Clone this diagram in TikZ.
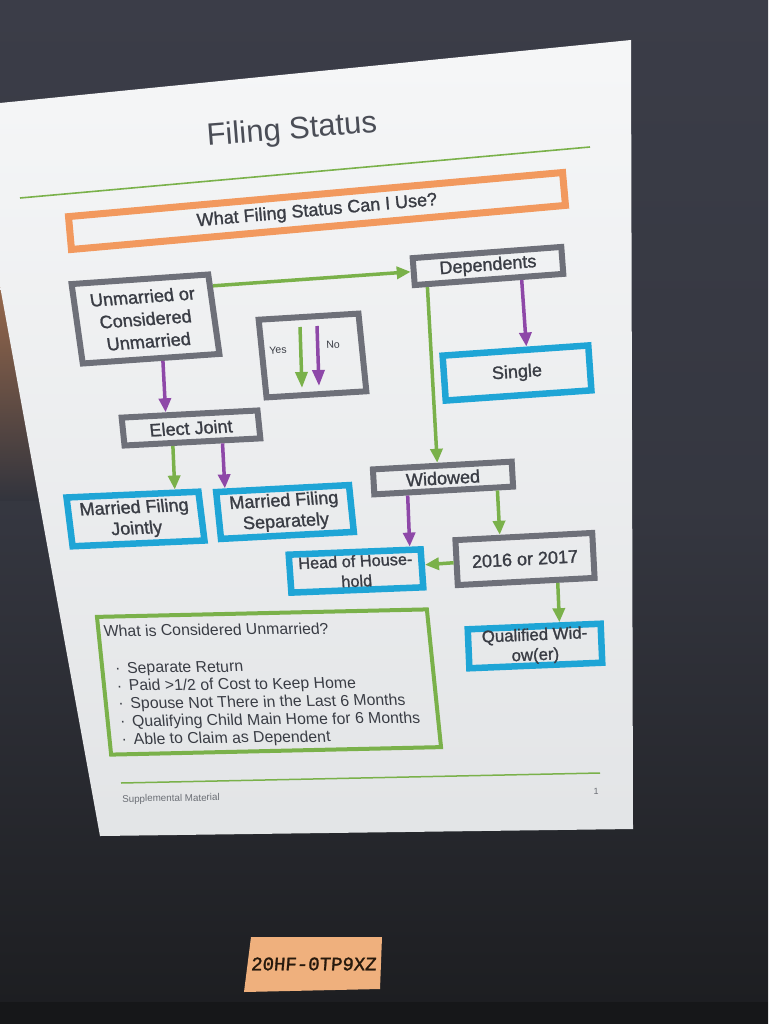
\documentclass[tikz,border=0pt]{standalone}
\usepackage{fontspec}
\setmainfont{Liberation Sans}
\newfontfamily\medfont{Liberation Sans}[FakeBold=1.3]
\newfontfamily\stickerfont{Liberation Mono}[FakeBold=1.5]
\usetikzlibrary{arrows.meta,calc}
\definecolor{bgtop}{HTML}{3B3D48}
\definecolor{bgbot}{HTML}{1C1D20}
\definecolor{pagec}{HTML}{ECEEF0}
\definecolor{txtc}{HTML}{3A3D45}
\definecolor{titlec}{HTML}{4A4D56}
\definecolor{boxgray}{HTML}{6E7079}
\definecolor{boxcyan}{HTML}{1FA5D6}
\definecolor{boxorange}{HTML}{F2995E}
\definecolor{fgreen}{HTML}{7AB14A}
\definecolor{fpurple}{HTML}{8E48A8}
\definecolor{footc}{HTML}{6B6E75}
\definecolor{stickc}{HTML}{EFB07D}
\definecolor{glowc}{HTML}{9A6A4C}
\begin{document}
\begin{tikzpicture}[x=1pt,y=-1pt,
  txtbase/.style={font=\medfont\fontsize{18}{21}\selectfont, text=txtc, align=center, inner sep=0pt},
  graybox/.style={txtbase, draw=boxgray, line width=6pt},
  cyanbox/.style={txtbase, draw=boxcyan, line width=6.5pt},
  garrow/.style={draw=fgreen, line width=3.5pt, -{Triangle[length=14pt,width=12pt]}},
  parrow/.style={draw=fpurple, line width=3.5pt, -{Triangle[length=14pt,width=12pt]}},
  legarrowg/.style={draw=fgreen, line width=3.5pt, -{Triangle[length=16pt,width=12pt]}},
  legarrowp/.style={draw=fpurple, line width=3.5pt, -{Triangle[length=16pt,width=12pt]}},
  smalltxt/.style={font=\fontsize{10.5}{12}\selectfont, text=txtc, inner sep=0pt},
]
\useasboundingbox (0,0) rectangle (768,1024);
% background (screen)
\shade[top color=bgtop, bottom color=bgbot, middle color=bgtop!80!bgbot] (0,0) rectangle (768,1024);
\shade[top color=glowc, bottom color=bgtop!72!bgbot] (0,280) rectangle (120,500);
\fill[bgbot!80!black] (0,1002) rectangle (768,1024);
% page
\shade[top color=pagec!50!white, bottom color=pagec!96!black] (0,103) -- (631,40) -- (633,829) -- (100,836) -- (0,286) -- cycle;

% title
\node[font=\fontsize{31}{36}\selectfont, text=titlec, inner sep=0pt, rotate=4.5] (title) at (292,131) {Filing Status};
\draw[fgreen, line width=1.6pt] (20,198) -- (590,147);
\node[txtbase, draw=boxorange, line width=7pt, minimum width=496pt, minimum height=33pt, rotate=5.1] (q) at (317,211) {What Filing Status Can I Use?};

% boxes
\node[graybox, minimum width=137pt, minimum height=80pt, rotate=4, xslant=-0.07, font=\medfont\fontsize{18}{22.5}\selectfont] (unm) at (145.5,319) {Unmarried or\\Considered\\Unmarried};
\node[graybox, minimum width=149pt, minimum height=27pt, rotate=4.3] (dep) at (488,266) {Dependents};
\node[cyanbox, minimum width=146pt, minimum height=45pt, rotate=4] (single) at (517,373) {Single};
\node[graybox, minimum width=100pt, minimum height=78pt, rotate=3.5, xslant=-0.04] (legend) at (312.5,355.5) {};
\node[graybox, minimum width=136pt, minimum height=28pt, rotate=3, xslant=-0.05] (ej) at (191,428) {Elect Joint};
\node[cyanbox, minimum width=132pt, minimum height=49pt, rotate=2.5, xslant=-0.08] (mfj) at (135.5,519) {Married Filing\\Jointly};
\node[cyanbox, minimum width=133pt, minimum height=47pt, rotate=3, xslant=-0.05] (mfs) at (285,512) {Married Filing\\Separately};
\node[graybox, minimum width=139pt, minimum height=25pt, rotate=3.2] (wid) at (443,478) {Widowed};
\node[graybox, minimum width=137pt, minimum height=45pt, rotate=3] (t16) at (525,559) {2016 or 2017};
\node[cyanbox, minimum width=132pt, minimum height=38pt, rotate=2.3, xslant=-0.03, font=\medfont\fontsize{16.3}{20}\selectfont] (hoh) at (356,571) {Head of House-\\hold};
\node[cyanbox, minimum width=133pt, minimum height=39pt, rotate=2.4, font=\medfont\fontsize{16.8}{20}\selectfont] (qw) at (535,646) {Qualified Wid-\\ow(er)};

% legend content
\node[smalltxt, rotate=3.5] (yes) at (278,350) {Yes};
\node[smalltxt, rotate=3.5] (no) at (333,345) {No};
\coordinate (lgs) at (300,327);
\coordinate (lge) at (302,388);
\coordinate (lps) at (317,326);
\coordinate (lpe) at (319,386);
\draw[legarrowg] (lgs) -- (lge);
\draw[legarrowp] (lps) -- (lpe);

% connectors
\coordinate (a1) at ($(unm.south west)!0.58!(unm.south east)$);
\coordinate (a2) at ($(dep.south west)!0.10!(dep.south east)$);
\coordinate (a3) at ($(dep.south west)!0.71!(dep.south east)$);
\coordinate (a4) at ($(ej.south west)!0.36!(ej.south east)$);
\coordinate (a5) at ($(ej.south west)!0.71!(ej.south east)$);
\coordinate (a6) at ($(wid.south west)!0.25!(wid.south east)$);
\coordinate (a7) at ($(wid.south west)!0.87!(wid.south east)$);
\coordinate (a8) at ($(t16.south west)!0.72!(t16.south east)$);
\coordinate (a0) at ($(unm.north east)!0.17!(unm.south east)$);

\draw[garrow] (a0) -- (dep.west);
\draw[parrow] (a1) -- ($(ej.north west)!(a1)!(ej.north east)$);
\draw[garrow] (a2) -- ($(wid.north west)!(a2)!(wid.north east)$);
\draw[parrow] (a3) -- ($(single.north west)!(a3)!(single.north east)$);
\draw[garrow] (a4) -- ($(mfj.north west)!(a4)!(mfj.north east)$);
\draw[parrow] (a5) -- ($(mfs.north west)!(a5)!(mfs.north east)$);
\draw[parrow] (a6) -- ($(hoh.north west)!(a6)!(hoh.north east)$);
\draw[garrow] (a7) -- ($(t16.north west)!(a7)!(t16.north east)$);
\draw[garrow] (t16.west) -- ($(hoh.north east)!(t16.west)!(hoh.south east)$);
\draw[garrow] (a8) -- ($(qw.north west)!(a8)!(qw.north east)$);

% info box
\node[draw=fgreen, line width=4pt, minimum width=330pt, minimum height=138pt, rotate=1.3, xslant=-0.08, inner sep=0pt] (info) at (269,682) {};
\node[font=\fontsize{15.8}{17.8}\selectfont, text=txtc, align=left, anchor=north west, inner sep=0pt, rotate=0.7, xslant=-0.08] (infotext) at (103,625)
{What is Considered Unmarried?\\[19pt]
\makebox[20pt][l]{\hspace{8pt}·}Separate Return\\
\makebox[20pt][l]{\hspace{8pt}·}Paid >1/2 of Cost to Keep Home\\
\makebox[20pt][l]{\hspace{8pt}·}Spouse Not There in the Last 6 Months\\
\makebox[20pt][l]{\hspace{8pt}·}Qualifying Child Main Home for 6 Months\\
\makebox[20pt][l]{\hspace{8pt}·}Able to Claim as Dependent};

% footer
\draw[fgreen, line width=1.5pt] (121,783) -- (600,773);
\node[font=\fontsize{9.8}{11}\selectfont, text=footc, inner sep=0pt, rotate=1] (foot) at (171,799) {Supplemental Material};
\node[font=\fontsize{9}{10}\selectfont, text=footc, inner sep=0pt] (pnum) at (596,791) {1};

% sticker
\fill[stickc] (251,937) -- (382,937) -- (380,989) -- (244,992) -- cycle;
\node[font=\stickerfont\fontsize{19}{22}\selectfont, text=black!80!brown, inner sep=0pt, xslant=0.08] (sticker) at (314,964) {20HF-0TP9XZ};
\end{tikzpicture}
\end{document}
